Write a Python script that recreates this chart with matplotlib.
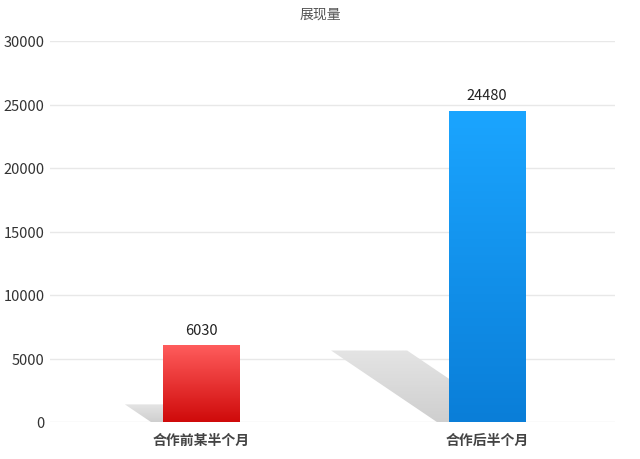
import numpy as np
import matplotlib.pyplot as plt
from matplotlib.patches import Polygon, Rectangle
from matplotlib.colors import LinearSegmentedColormap

plt.rcParams['font.family'] = ['Noto Sans CJK SC', 'DejaVu Sans']

categories = ['合作前某半个月', '合作后半个月']
values = [6030, 24480]
title = '展现量'
yticks = [0, 5000, 10000, 15000, 20000, 25000, 30000]
top_colors = ['#ff5c5c', '#1ba5ff']
bottom_colors = ['#cf0a0a', '#0a7ed8']

fig = plt.figure(figsize=(6.4, 4.6), dpi=100)
ax = fig.add_axes([50 / 640, 1 - 423 / 460, 565 / 640, 381 / 460])

width = 0.266
xs = np.arange(len(categories))
px_x = 286          # pixels per x unit
px_y = 381 / 30000  # pixels per y unit

# shadows behind bars
shadow_cmap = LinearSegmentedColormap.from_list('s', ['#cfcfcf', '#e4e4e4'])
for x, v in zip(xs, values):
    h = v * 0.23
    vpx = h * px_y
    x0 = x - width / 2
    base = x0 - 12 / px_x
    dx = vpx * 1.48 / px_x
    poly = Polygon([(base - dx, h), (base - dx + width, h), (base + width, 0), (base, 0)],
                   closed=True, facecolor='none', edgecolor='none')
    ax.add_patch(poly)
    grad = np.linspace(0, 1, 64).reshape(-1, 1)
    im = ax.imshow(grad, cmap=shadow_cmap, origin='lower', aspect='auto',
                   extent=[base - dx, base + width, 0, h], zorder=1)
    im.set_clip_path(poly)

# gradient bars
for x, v, c1, c2 in zip(xs, values, top_colors, bottom_colors):
    cmap = LinearSegmentedColormap.from_list('g', [c2, c1])
    grad = np.linspace(0, 1, 256).reshape(-1, 1)
    x0 = x - width / 2
    im = ax.imshow(grad, cmap=cmap, origin='lower', aspect='auto',
                   extent=[x0, x0 + width, 0, v], zorder=2)
    rect = Rectangle((x0, 0), width, v, facecolor='none', edgecolor='none')
    ax.add_patch(rect)
    im.set_clip_path(rect)
    ax.text(x, v + 1250, str(v), ha='center', va='center', fontsize=10.5,
            color='#222222', zorder=3)

ax.set_xlim(-0.528, 1.448)
ax.set_ylim(0, 30000)
ax.set_yticks(yticks)
ax.set_yticklabels([str(t) for t in yticks], fontsize=10.5, color='#333333')
ax.set_xticks(xs)
ax.set_xticklabels(categories, fontsize=10, fontweight='bold', color='#444444')
ax.tick_params(length=0, pad=4)
ax.tick_params(axis='x', pad=8)
ax.grid(axis='y', color='#e8e8e8', linewidth=1)
ax.set_axisbelow(True)
for s in ax.spines.values():
    s.set_visible(False)

fig.text(0.5, 1 - 15 / 460, title, ha='center', va='center', fontsize=10, color='#555555')

fig.savefig('out.png', dpi=100)
